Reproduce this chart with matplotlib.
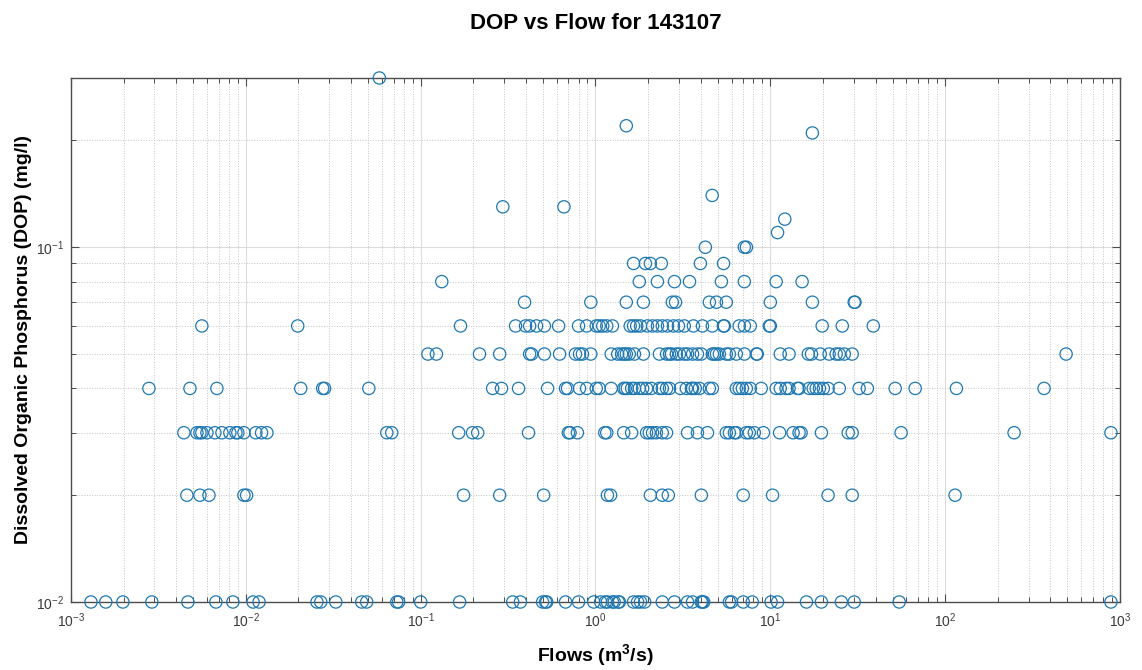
import numpy as np
import matplotlib
matplotlib.use('Agg')
import matplotlib.pyplot as plt
from matplotlib.ticker import LogLocator, FixedLocator, NullFormatter

plt.rcParams['font.family'] = ['Liberation Sans', 'DejaVu Sans']
plt.rcParams['mathtext.fontset'] = 'custom'
plt.rcParams['mathtext.rm'] = 'Liberation Sans'
plt.rcParams['mathtext.bf'] = 'Liberation Sans:bold'

# flows (m3/s) grouped by the reported DOP value (mg/l)
flow_010 = [0.0013, 0.00158, 0.00198, 0.0029, 0.00466, 0.00674, 0.00843, 0.011, 0.0119,
            0.0255, 0.0268, 0.0327, 0.046, 0.0491, 0.073, 0.0748, 0.1, 0.167, 0.336,
            0.372, 0.498, 0.518, 0.526, 0.674, 0.80, 0.977, 1.07, 1.14, 1.17, 1.25, 1.28,
            1.35, 1.37, 1.65, 1.74, 1.81, 1.91, 2.41, 2.83, 3.36, 3.59, 4.03, 4.09, 4.16,
            5.83, 6.0, 7.0, 7.88, 10.1, 11.0, 16.1, 19.6, 25.5, 30.2, 54.6, 888]
flow_020 = [0.0046, 0.00546, 0.00615, 0.00975, 0.0101, 0.176, 0.283, 0.505, 1.17, 1.22,
            2.06, 2.41, 2.61, 4.03, 7.0, 10.3, 21.4, 29.4, 114]
flow_030 = [0.00442, 0.00525, 0.00546, 0.0056, 0.00599, 0.00665, 0.0073, 0.0081, 0.00877,
            0.009, 0.00975, 0.0114, 0.0123, 0.0132, 0.064, 0.0683, 0.165, 0.198, 0.212,
            0.414, 0.70, 0.715, 0.788, 1.13, 1.16, 1.45, 1.61, 1.96, 2.03, 2.12, 2.23, 2.41,
            2.55, 3.36, 3.83, 4.37, 5.6, 5.83, 6.23, 6.39, 7.29, 7.58, 8.10, 9.13, 11.3,
            13.5, 14.6, 15.0, 19.6, 27.9, 29.4, 56, 248, 888]
flow_040 = [0.00279, 0.00479, 0.00683, 0.0206, 0.0275, 0.0282, 0.0505, 0.258, 0.290, 0.363,
            0.532, 0.674, 0.692, 0.81, 0.89, 1.01, 1.05, 1.23, 1.45, 1.48, 1.52, 1.61, 1.67,
            1.78, 1.86, 1.96, 2.09, 2.32, 2.41, 2.55, 2.65, 3.06, 3.31, 3.54, 3.59, 3.72,
            3.93, 4.48, 4.66, 6.39, 6.64, 6.92, 7.29, 7.68, 8.87, 10.8, 11.4, 12.3, 12.8,
            14.3, 14.6, 16.7, 17.6, 18.3, 19.1, 20.1, 21.4, 24.8, 32.2, 35.9, 51.8, 67.4,
            116, 368]
flow_050 = [0.110, 0.123, 0.217, 0.283, 0.42, 0.431, 0.51, 0.623, 0.768, 0.81, 0.842, 0.94,
            1.23, 1.34, 1.41, 1.46, 1.50, 1.56, 1.67, 1.88, 2.32, 2.55, 2.65, 2.72, 2.90,
            3.02, 3.22, 3.36, 3.59, 3.83, 4.03, 4.66, 4.79, 4.92, 5.11, 5.60, 5.83, 6.39,
            7.11, 8.33, 8.42, 11.4, 12.8, 16.5, 17.2, 19.3, 21.7, 23.8, 24.8, 26.5, 29.4, 492]
flow_060 = [0.0056, 0.0198, 0.169, 0.349, 0.398, 0.42, 0.46, 0.51, 0.615, 0.80, 0.89, 1.01,
            1.05, 1.10, 1.16, 1.25, 1.58, 1.65, 1.72, 1.81, 1.98, 2.12, 2.26, 2.41, 2.58,
            2.79, 2.98, 3.22, 3.63, 4.09, 4.66, 5.39, 5.46, 6.64, 7.11, 7.68, 9.87, 10.0,
            19.8, 25.8, 38.8]
flow_070 = [0.393, 0.94, 1.5, 1.88, 2.75, 2.87, 4.48, 4.92, 5.6, 10.0, 17.4, 30.2, 30.5]
flow_080 = [0.132, 1.78, 2.26, 2.83, 3.45, 5.25, 7.1, 10.8, 15.2]
flow_090 = [1.65, 1.93, 2.06, 2.38, 3.98, 5.4]
flow_100 = [4.25, 7.1, 7.3]

# the few samples above 0.1 mg/l
high_flow = [11.0, 12.1, 0.295, 0.66, 4.65, 17.4, 1.5, 0.058]
high_dop = [0.11, 0.12, 0.13, 0.13, 0.14, 0.21, 0.22, 0.30]

x_ticks = [1e-3, 1e-2, 1e-1, 1e0, 1e1, 1e2, 1e3]
y_ticks = [1e-2, 1e-1]

groups = [(0.01, flow_010), (0.02, flow_020), (0.03, flow_030), (0.04, flow_040),
          (0.05, flow_050), (0.06, flow_060), (0.07, flow_070), (0.08, flow_080),
          (0.09, flow_090), (0.10, flow_100)]

flows = np.concatenate([np.array(f) for _, f in groups] + [np.array(high_flow)])
dop = np.concatenate([np.full(len(f), v) for v, f in groups] + [np.array(high_dop)])

fig = plt.figure(figsize=(11.42, 6.70), dpi=100)
ax = fig.add_axes([0.0622, 0.1015, 0.9185, 0.7821])

ax.scatter(flows, dop, s=78, facecolors='none', edgecolors='#1f78b2',
           linewidths=0.9, clip_on=False, zorder=3)

ax.set_xscale('log')
ax.set_yscale('log')
ax.set_xlim(1e-3, 1e3)
ax.set_ylim(0.01, 0.3)

ax.xaxis.set_major_locator(FixedLocator(x_ticks))
ax.yaxis.set_major_locator(FixedLocator(y_ticks))
ax.xaxis.set_minor_locator(LogLocator(base=10, subs=np.arange(2, 10), numticks=20))
ax.yaxis.set_minor_locator(LogLocator(base=10, subs=np.arange(2, 10), numticks=20))
ax.xaxis.set_minor_formatter(NullFormatter())
ax.yaxis.set_minor_formatter(NullFormatter())

# grid on + grid minor
ax.grid(True, which='major', color='#dcdcdc', linestyle='-', linewidth=0.8)
ax.grid(True, which='minor', color='#c4c4c4', linestyle=':', linewidth=0.7)
ax.set_axisbelow(True)

for side in ax.spines.values():
    side.set_color('#4d4d4d')
    side.set_linewidth(1.0)
ax.tick_params(which='both', direction='in', top=True, right=True,
               colors='#4d4d4d', labelcolor='#3a3a3a', labelsize=10)
ax.tick_params(which='major', length=6, width=0.8)
ax.tick_params(which='minor', length=3.5, width=0.7)
ax.tick_params(axis='x', which='major', pad=7)
ax.tick_params(axis='y', which='major', pad=5)

ax.set_title('DOP vs Flow for 143107', fontsize=16, fontweight='bold', pad=35)
ax.set_xlabel(r'Flows (m$^{\mathbf{3}}$/s)', fontsize=14, fontweight='bold', labelpad=9)
ax.set_ylabel('Dissolved Organic Phosphorus (DOP) (mg/l)', fontsize=14,
              fontweight='bold', labelpad=3)

plt.savefig('out.png', dpi=100)
plt.close()
